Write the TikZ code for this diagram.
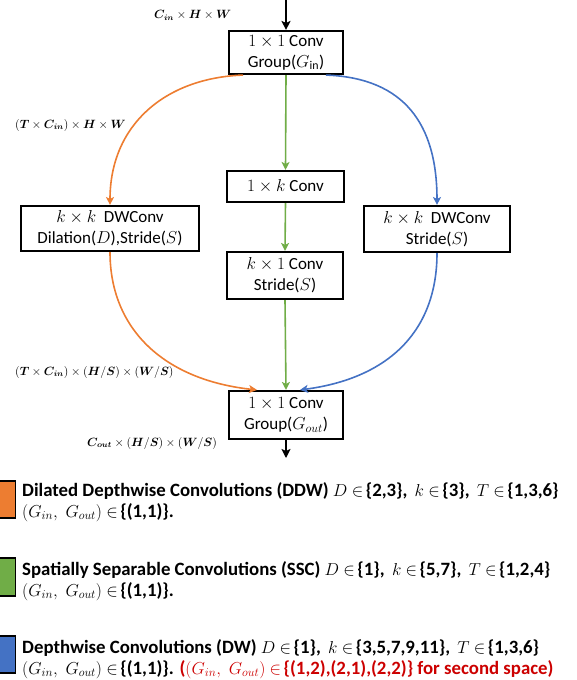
\documentclass[tikz,border=0pt]{standalone}
\usepackage{fontspec}
\usepackage{amsmath}
\usepackage{bm}
\setmainfont{Carlito}
\usetikzlibrary{arrows.meta,calc}
\definecolor{corange}{HTML}{ED7D31}
\definecolor{cgreen}{HTML}{70AD47}
\definecolor{cblue}{HTML}{4472C4}
\definecolor{cred}{RGB}{204,0,0}
\newcommand{\myin}{$\in$\hspace{2.5pt}}
\newcommand{\mysep}{\textbf{,}\hspace{3pt}\space}
\newcommand{\gpair}{$(G_{in},\;G_{out})$}
\begin{document}
\begin{tikzpicture}[x=1pt,y=-1pt,
  box/.style={draw=black,line width=2.1pt,fill=white,align=center,inner sep=1pt,
    font=\fontsize{17}{21}\selectfont},
  lbl/.style={font=\fontsize{12}{14}\selectfont,inner sep=0pt,anchor=west},
  blk/.style={draw=black,line width=1.6pt,-{Stealth[length=9pt,width=9pt,inset=2pt]}},
  flow/.style={line width=1.6pt,-{Stealth[length=8pt,width=8pt,inset=2pt]}},
  leg/.style={anchor=base west,inner sep=0pt,font=\fontsize{18.8}{21}\selectfont},
  legsq/.style={draw=black,line width=1.5pt}]
\useasboundingbox (0,0) rectangle (577,680);

% boxes
\node[box,minimum width=114pt,minimum height=43pt] (top) at (286,52.5) {$1\times 1$ Conv\\Group($G_{\mathrm{in}}$)};
\node[box,minimum width=117pt,minimum height=31pt] (k1) at (285.5,186.5) {$1\times k$ Conv};
\node[box,minimum width=116pt,minimum height=47pt] (k2) at (285,275.5) {$k\times 1$ Conv\\Stride($S$)};
\node[box,minimum width=178pt,minimum height=45pt] (dwl) at (110,228.5) {$k\times k$\ \ DWConv\\Dilation($D$),Stride($S$)};
\node[box,minimum width=146pt,minimum height=46pt] (dwr) at (437,229) {$k\times k$\ \ DWConv\\Stride($S$)};
\node[box,minimum width=114pt,minimum height=48pt] (bot) at (286,415) {$1\times 1$ Conv\\Group($G_{out}$)};

% labels
\node[lbl] (l1) at (154,15) {$\bm{C_{in}}\times\bm{H}\times\bm{W}$};
\node[lbl] (l2) at (15,125) {$(\bm{T}\times\bm{C_{in}})\times\bm{H}\times\bm{W}$};
\node[lbl] (l3) at (15,372) {$(\bm{T}\times\bm{C_{in}})\times(\bm{H}/\bm{S})\times(\bm{W}/\bm{S})$};
\node[lbl] (l4) at (87,443) {$\bm{C_{out}}\times(\bm{H}/\bm{S})\times(\bm{W}/\bm{S})$};

% connectors
\coordinate (in) at (286,0);
\coordinate (out) at (286,458);
\draw[blk] (in) -- (top.north);
\draw[blk] (bot.south) -- (out);
\draw[flow,cgreen] (top.south) -- (k1.north);
\draw[flow,cgreen] (k1.south) -- (k2.north);
\draw[flow,cgreen] (k2.south) -- (bot.north);
\draw[flow,corange] ([xshift=-43pt]top.south) .. controls (165,78) and (110,125) .. (dwl.north);
\draw[flow,cblue] ([xshift=40pt]top.south) .. controls (405,78) and (437,125) .. (dwr.north);
\draw[flow,corange] (dwl.south) .. controls (110,330) and (165,380) .. ([xshift=-29pt]bot.north);
\draw[flow,cblue] (dwr.south) .. controls (437,330) and (390,378) .. ([xshift=14pt]bot.north);

% legend
\draw[legsq,fill=corange] (-22,481) rectangle (15.5,518);
\draw[legsq,fill=cgreen] (-22,558) rectangle (15.5,596);
\draw[legsq,fill=cblue] (-22,636) rectangle (15.5,673);

\node[leg] (t1) at (22,496) {\textbf{Dilated Depthwise Convolutions (DDW)} $D$ \myin\textbf{\{2,3\}}\mysep$k$ \myin\textbf{\{3\}}\mysep$T$ \myin\textbf{\{1,3,6\}}};
\node[leg] (t2) at (22,517) {\gpair{} \myin\textbf{\{(1,1)\}.}};
\node[leg] (t3) at (22,575) {\textbf{Spatially Separable Convolutions (SSC)} $D$ \myin\textbf{\{1\}}\mysep$k$ \myin\textbf{\{5,7\}}\mysep$T$ \myin\textbf{\{1,2,4\}}};
\node[leg] (t4) at (22,596) {\gpair{} \myin\textbf{\{(1,1)\}.}};
\node[leg] (t5) at (22,653) {\textbf{Depthwise Convolutions (DW)} $D$ \myin\textbf{\{1\}}\mysep$k$ \myin\textbf{\{3,5,7,9,11\}}\mysep$T$ \myin\textbf{\{1,3,6\}}};
\node[leg] (t6) at (22,674) {\gpair{} \myin\textbf{\{(1,1)\}.} \textcolor{cred}{\textbf{(}\gpair{} \myin\textbf{\{(1,2),(2,1),(2,2)\} for second space)}}};
\end{tikzpicture}
\end{document}
